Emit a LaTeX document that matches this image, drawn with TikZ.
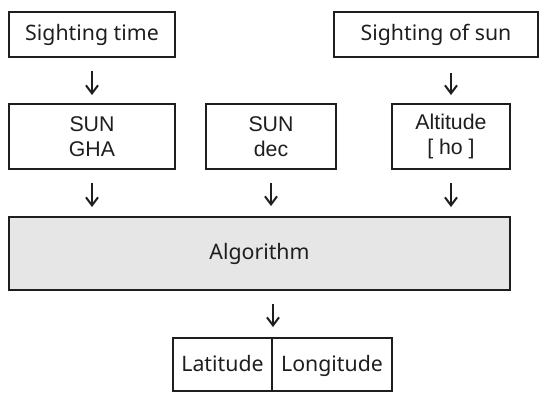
\documentclass[tikz,border=0pt]{standalone}
\usepackage{fontspec}
\setmainfont{Noto Sans}
\newfontfamily\arialfont{Liberation Sans}
\usetikzlibrary{arrows.meta}
\definecolor{ink}{HTML}{1E1E1E}
\definecolor{algfill}{HTML}{E6E6E6}
\begin{document}
\begin{tikzpicture}[x=1pt,y=-1pt,
  box/.style={draw=ink, line width=2pt, text=ink, inner sep=0pt, align=center, font=\fontsize{21.3}{25}\selectfont},
  midbox/.style={box, font=\arialfont\fontsize{21.3}{25}\selectfont},
  arr/.style={draw=ink, line width=2pt, -{Straight Barb[length=8pt,width=12pt,line width=2pt]}}
]
\useasboundingbox (0,0) rectangle (539,392);
\node[box, minimum width=166, minimum height=45] (st) at (92,34.5) {Sighting time};
\node[box, minimum width=204, minimum height=45] (ss) at (436,34.5) {Sighting of sun};
\node[midbox, minimum width=166, minimum height=65] (gha) at (92,136.5) {SUN\\GHA};
\node[midbox, minimum width=130, minimum height=65] (dec) at (271,136.5) {SUN\\dec};
\node[midbox, minimum width=118, minimum height=65] (alt) at (451,136.5) {Altitude\\{[} ho ]};
\node[box, fill=algfill, minimum width=501, minimum height=73] (alg) at (259.5,253.5) {Algorithm};
\node[box, minimum width=99, minimum height=53, text height=17pt, text depth=3pt] (lat) at (222.5,364.5) {Latitude};
\node[box, minimum width=120, minimum height=53, text height=17pt, text depth=3pt] (lon) at (332,364.5) {Longitude};
\draw[arr, shorten <=13pt, shorten >=8pt] (st.south) -- (gha.north);
\draw[arr, shorten <=15pt, shorten >=8pt] (alt.north |- ss.south) -- (alt.north);
\draw[arr, shorten <=13pt, shorten >=9pt] (gha.south) -- (gha.south |- alg.north);
\draw[arr, shorten <=13pt, shorten >=10pt] (dec.south) -- (dec.south |- alg.north);
\draw[arr, shorten <=13pt, shorten >=9pt] (alt.south) -- (alt.south |- alg.north);
\draw[arr, shorten <=13pt, shorten >=10pt] (lat.north east |- alg.south) -- (lat.north east);
\end{tikzpicture}
\end{document}
